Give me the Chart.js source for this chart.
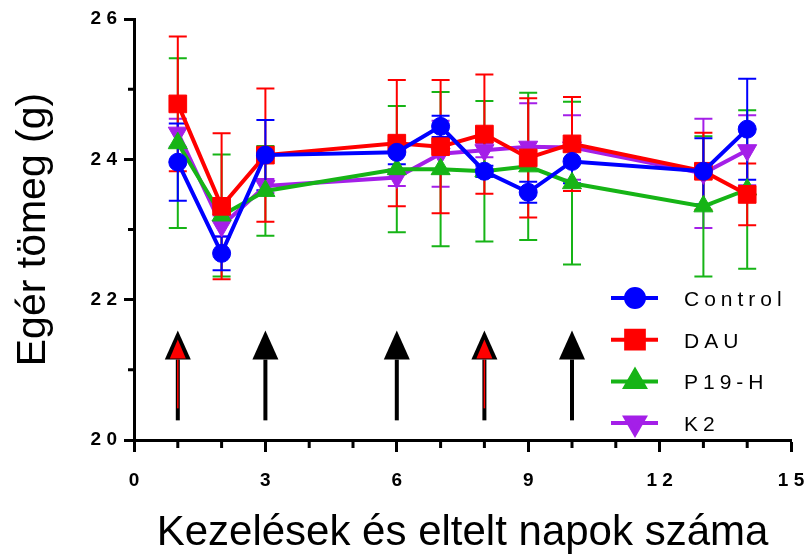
<!DOCTYPE html>
<html>
<head>
<meta charset="utf-8">
<script src="https://cdn.jsdelivr.net/npm/chart.js@4.4.0/dist/chart.umd.min.js"></script>
<style>
html, body { margin: 0; padding: 0; background: #fff; }
#wrap { width: 807px; height: 555px; }
</style>
</head>
<body>
<div id="wrap"><canvas id="chart" width="807" height="555"></canvas></div>
<script>
// ---------------- DATA ----------------
const days = [1, 2, 3, 6, 7, 8, 9, 10, 13, 14];

const control    = [23.96, 22.66, 24.06, 24.10, 24.47, 23.83, 23.53, 23.97, 23.83, 24.43];
const controlErr = [0.55, 0.24, 0.50, 0.17, 0.15, 0.08, 0.15, 0.31, 0.47, 0.72];

const dau    = [24.79, 23.33, 24.06, 24.23, 24.18, 24.36, 24.02, 24.22, 23.83, 23.50];
const dauErr = [0.96, 1.04, 0.95, 0.90, 0.95, 0.85, 0.85, 0.67, 0.55, 0.44];

const p19h    = [24.23, 23.20, 23.55, 23.86, 23.86, 23.83, 23.90, 23.66, 23.33, 23.57];
const p19hErr = [1.21, 0.87, 0.64, 0.90, 1.10, 1.00, 1.05, 1.16, 1.00, 1.13];

const k2    = [24.38, 23.05, 23.62, 23.74, 24.08, 24.13, 24.18, 24.17, 23.80, 24.13];
const k2Err = [0.20, 0.15, 0.10, 0.12, 0.47, 0.10, 0.62, 0.46, 0.78, 0.50];

// treatment arrows (red = DAU given that day too)
const treatmentDays = [1, 3, 6, 8, 10];
const treatmentDau  = [true, false, false, true, false];

const xTickLabels = [0, 3, 6, 9, 12, 15];
const yTickLabels = [20, 22, 24, 26];

// ---------------- HELPERS ----------------
const FONT = '"Liberation Sans", Arial, Helvetica, sans-serif';
const spaced = v => String(v).split("").join(" ");
const toPoints = vals => days.map((d, i) => ({ x: d, y: vals[i] }));

const makeSet = (label, vals, errs, color, style, radius, rotation) => ({
  label,
  data: toPoints(vals),
  errors: errs,
  borderColor: color,
  backgroundColor: color,
  borderWidth: 4,
  pointStyle: style,
  pointRadius: radius,
  pointHoverRadius: radius,
  pointRotation: rotation,
  pointBackgroundColor: color,
  pointBorderColor: color,
  pointBorderWidth: 1,
  fill: false,
  tension: 0
});

const datasets = [
  makeSet("Control", control, controlErr, "#0000FF", "circle", 9, 0),
  makeSet("DAU", dau, dauErr, "#FF0000", "rect", 12.5, 0),
  makeSet("P19-H", p19h, p19hErr, "#16B416", "triangle", 11, 0),
  makeSet("K2", k2, k2Err, "#A41FE8", "triangle", 11, 180)
];

// ---------------- PLUGINS ----------------
const errorBars = {
  id: "errorBars",
  beforeDatasetsDraw(chart) {
    const { ctx, scales: { x, y } } = chart;
    ctx.save();
    ctx.lineWidth = 2;
    for (let d = chart.data.datasets.length - 1; d >= 0; d--) {
      const ds = chart.data.datasets[d];
      ctx.strokeStyle = ds.borderColor;
      ds.data.forEach((p, i) => {
        const px = x.getPixelForValue(p.x);
        const top = y.getPixelForValue(p.y + ds.errors[i]);
        const bot = y.getPixelForValue(p.y - ds.errors[i]);
        ctx.beginPath();
        ctx.moveTo(px, top); ctx.lineTo(px, bot);
        ctx.moveTo(px - 9, top); ctx.lineTo(px + 9, top);
        ctx.moveTo(px - 9, bot); ctx.lineTo(px + 9, bot);
        ctx.stroke();
      });
    }
    ctx.restore();
  }
};

const arrows = {
  id: "arrows",
  afterDatasetsDraw(chart) {
    const { ctx, scales: { x, y } } = chart;
    const tailY = y.getPixelForValue(20.28);
    const tipY = y.getPixelForValue(21.56);
    const baseY = tipY + 29;
    ctx.save();
    treatmentDays.forEach((d, i) => {
      const px = x.getPixelForValue(d);
      ctx.fillStyle = "#000";
      ctx.fillRect(px - 2, baseY, 4, tailY - baseY);
      ctx.beginPath();
      ctx.moveTo(px, tipY);
      ctx.lineTo(px + 13, baseY);
      ctx.lineTo(px - 13, baseY);
      ctx.closePath();
      ctx.fill();
      if (treatmentDau[i]) {
        ctx.fillStyle = "#FF0000";
        ctx.beginPath();
        ctx.moveTo(px, tipY + 9);
        ctx.lineTo(px + 8, baseY - 1);
        ctx.lineTo(px - 8, baseY - 1);
        ctx.closePath();
        ctx.fill();
        ctx.fillRect(px - 0.75, baseY, 1.5, tailY - baseY - 12);
      }
    });
    ctx.restore();
  }
};

const minorTicks = {
  id: "minorTicks",
  afterDraw(chart) {
    const { ctx, scales: { x, y } } = chart;
    ctx.save();
    ctx.strokeStyle = "#000";
    ctx.lineWidth = 3;
    ctx.beginPath();
    for (let v = 0; v <= 15; v++) {
      if (xTickLabels.includes(v)) continue;
      const px = x.getPixelForValue(v);
      ctx.moveTo(px, x.top); ctx.lineTo(px, x.top + 8);
    }
    for (let v = 20; v <= 26; v++) {
      if (yTickLabels.includes(v)) continue;
      const py = y.getPixelForValue(v);
      ctx.moveTo(y.right - 6, py); ctx.lineTo(y.right, py);
    }
    ctx.stroke();
    ctx.restore();
  }
};

const sideLegend = {
  id: "sideLegend",
  afterDraw(chart) {
    const ctx = chart.ctx;
    ctx.save();
    chart.data.datasets.forEach((ds, i) => {
      const rowY = 298 + i * 41.7;
      ctx.strokeStyle = ds.borderColor;
      ctx.fillStyle = ds.borderColor;
      ctx.lineWidth = 4;
      ctx.beginPath();
      ctx.moveTo(611, rowY); ctx.lineTo(658, rowY);
      ctx.stroke();
      Chart.helpers.drawPoint(ctx, {
        pointStyle: ds.pointStyle,
        radius: ds.pointRadius,
        rotation: ds.pointRotation,
        borderWidth: 1
      }, 635, rowY);
      ctx.fillStyle = "#000";
      ctx.font = "21px " + FONT;
      ctx.letterSpacing = "5px";
      ctx.textAlign = "left";
      ctx.textBaseline = "alphabetic";
      ctx.fillText(ds.label, 684, rowY + 8);
      ctx.letterSpacing = "0px";
    });
    ctx.restore();
  }
};

// ---------------- CHART ----------------
new Chart(document.getElementById("chart"), {
  type: "line",
  data: { datasets },
  plugins: [errorBars, arrows, minorTicks, sideLegend],
  options: {
    responsive: false,
    animation: false,
    devicePixelRatio: 1,
    layout: { padding: { top: 19, right: 16, left: 0, bottom: 0 } },
    plugins: {
      legend: { display: false },
      tooltip: { enabled: false }
    },
    scales: {
      x: {
        type: "linear",
        min: 0,
        max: 15,
        afterFit: s => { s.height = 115; s.paddingLeft = 0; s.paddingRight = 0; },
        border: { display: true, width: 3, color: "#000" },
        grid: {
          drawOnChartArea: false,
          drawTicks: true,
          tickLength: 12,
          tickWidth: 3,
          tickColor: c => xTickLabels.includes(c.tick.value) ? "#000" : "rgba(0,0,0,0)"
        },
        ticks: {
          stepSize: 1,
          autoSkip: false,
          maxRotation: 0,
          padding: 17,
          color: "#000",
          font: { family: FONT, size: 19, weight: "bold" },
          callback: v => xTickLabels.includes(v) ? spaced(v) : ""
        },
        title: {
          display: true,
          text: "Kezelések és eltelt napok száma",
          color: "#000",
          font: { family: FONT, size: 42, lineHeight: 1 },
          padding: { top: 0, bottom: 1 }
        }
      },
      y: {
        min: 20,
        max: 26,
        afterFit: s => { s.width = 134; s.paddingTop = 0; s.paddingBottom = 0; },
        border: { display: true, width: 3, color: "#000" },
        grid: {
          drawOnChartArea: false,
          drawTicks: true,
          tickLength: 10,
          tickWidth: 3,
          tickColor: c => yTickLabels.includes(c.tick.value) ? "#000" : "rgba(0,0,0,0)"
        },
        ticks: {
          stepSize: 1,
          autoSkip: false,
          padding: 7,
          color: "#000",
          font: { family: FONT, size: 19, weight: "bold" },
          callback: v => yTickLabels.includes(v) ? spaced(v) : ""
        },
        title: {
          display: true,
          text: "Egér tömeg (g)",
          color: "#000",
          font: { family: FONT, size: 41, lineHeight: 1.2 },
          padding: { top: 9, bottom: 0 }
        }
      }
    }
  }
});
</script>
</body>
</html>
